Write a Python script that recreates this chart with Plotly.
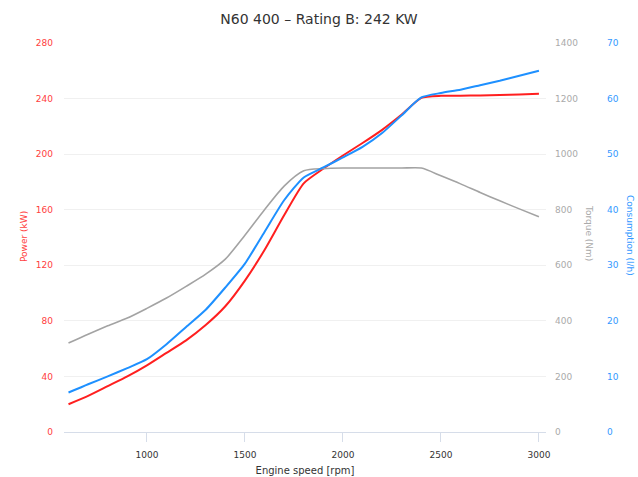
import plotly.graph_objects as go

rpm = [600, 700, 800, 900, 1000, 1100, 1200, 1300, 1400, 1500, 1600, 1700, 1800,
       1900, 2000, 2100, 2200, 2300, 2400, 2500, 2600, 2700, 2800, 2900, 3000]
power_kw = [20, 26, 33, 40, 48, 57, 66, 77, 90.5, 109, 131, 156, 179,
            189.5, 199, 208, 217.5, 228.5, 240.5, 242, 242, 242.3, 242.6, 243, 243.5]
torque_nm = [320, 352, 382, 410, 445, 482, 524, 568, 622, 708, 800, 885, 940,
             948, 950, 950, 950, 950, 950, 922, 893, 862, 832, 803, 775]
consumption_lh = [7.1, 8.6, 10, 11.5, 13.1, 15.8, 18.9, 22, 26, 30.3, 36, 41.7, 45.8,
                  47.6, 49.4, 51.3, 53.8, 57, 60.2, 61, 61.6, 62.4, 63.2, 64.1, 65]

x_ticks = [1000, 1500, 2000, 2500, 3000]

FONT = "DejaVu Sans"
RED = "#ff1f1f"
BLUE = "#1e90ff"
GRAY = "#a3a3a3"

W, H = 638, 477
ML, MR, MT, MB = 64, 10, 43, 45
plot_right = 546
pw = W - ML - MR
dom_r = (plot_right - ML) / pw
pos3 = (600 - ML) / pw

fig = go.Figure()
fig.add_trace(go.Scatter(x=rpm, y=torque_nm, yaxis="y2", mode="lines",
                         line=dict(color=GRAY, width=1.6, shape="spline", smoothing=0.7),
                         name="Torque", hoverinfo="x+y"))
fig.add_trace(go.Scatter(x=rpm, y=power_kw, yaxis="y", mode="lines",
                         line=dict(color=RED, width=2, shape="spline", smoothing=0.6),
                         name="Power", hoverinfo="x+y"))
fig.add_trace(go.Scatter(x=rpm, y=consumption_lh, yaxis="y3", mode="lines",
                         line=dict(color=BLUE, width=2, shape="spline", smoothing=0.6),
                         name="Consumption", hoverinfo="x+y"))

fig.update_layout(
    width=W, height=H,
    margin=dict(l=ML, r=MR, t=MT, b=MB, pad=0, autoexpand=False),
    paper_bgcolor="white", plot_bgcolor="white",
    showlegend=False,
    font=dict(family=FONT, size=9, color="#333333"),
    title=dict(text="N60 400 – Rating B: 242 KW", x=0.5, xref="container", xanchor="center",
               y=1 - 19 / H, yref="container", yanchor="middle",
               font=dict(family=FONT, size=14, color="#333333")),
    xaxis=dict(domain=[0, dom_r], range=[577, 3036], tickvals=x_ticks, automargin=False,
               showgrid=False, zeroline=False, showline=True, linecolor="#d6dde9", linewidth=1,
               ticks="outside", ticklen=9, tickcolor="#d6dde9", tickwidth=1,
               tickfont=dict(size=9, color="#333333"), ticklabelstandoff=5,
               title=dict(text="Engine speed [rpm]", font=dict(size=10, color="#333333"), standoff=8)),
    yaxis=dict(range=[0, 280], dtick=40, showgrid=True, gridcolor="#f0f0f0", gridwidth=1,
               zeroline=False, showline=False, ticks="", automargin=False,
               tickfont=dict(size=9, color="#ff4040"), ticklabelstandoff=10),
    yaxis2=dict(range=[0, 1400], dtick=200, overlaying="y", anchor="free", position=dom_r,
                side="right", showgrid=False, zeroline=False, showline=False, ticks="",
                automargin=False,
                tickfont=dict(size=9, color="#aaaaaa"), ticklabelstandoff=8),
    yaxis3=dict(range=[0, 70], dtick=10, overlaying="y", anchor="free", position=pos3,
                side="right", showgrid=False, zeroline=False, showline=False, ticks="",
                automargin=False,
                tickfont=dict(size=9, color="#3399ff"), ticklabelstandoff=6),
    annotations=[
        dict(text="Power (kW)", x=24, y=237, xref="paper", yref="paper", showarrow=False,
             xanchor="center", yanchor="middle",
             textangle=-90, font=dict(size=9, color="#ff4040")),
        dict(text="Torque (Nm)", x=589, y=233, xref="paper", yref="paper", showarrow=False,
             xanchor="center", yanchor="middle",
             textangle=90, font=dict(size=9, color="#aaaaaa")),
        dict(text="Consumption (l/h)", x=630, y=235, xref="paper", yref="paper", showarrow=False,
             xanchor="center", yanchor="middle",
             textangle=90, font=dict(size=9, color="#3399ff")),
    ],
)

# convert pixel positions of annotations to paper coordinates
for a in fig.layout.annotations:
    a.x = (a.x - ML) / pw
    a.y = (H - MB - a.y) / (H - MT - MB)

fig.write_html("out.html", config={"displayModeBar": False},
               post_script="document.body.style.margin='0px';document.body.style.overflow='hidden';")
